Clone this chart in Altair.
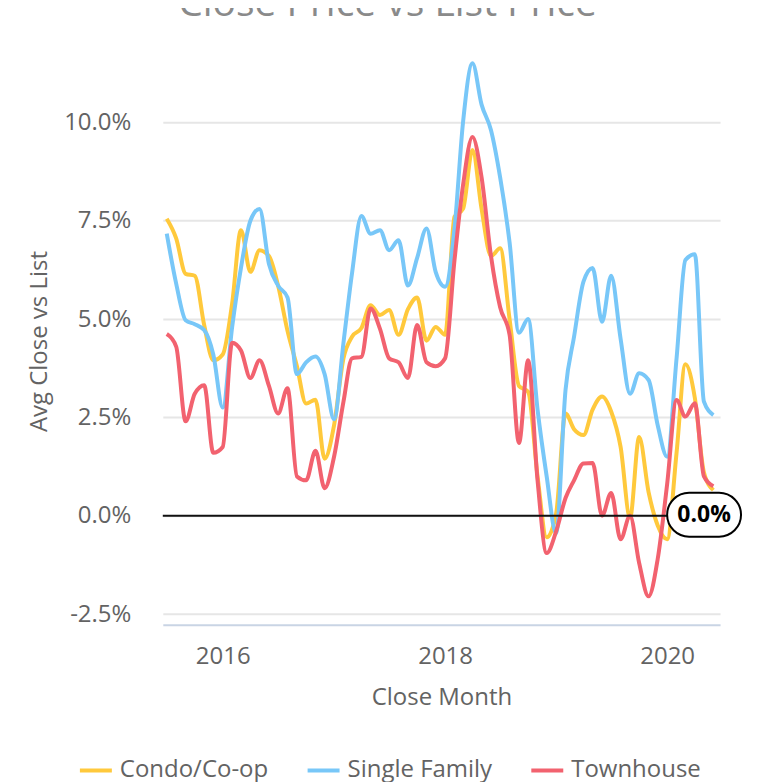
import altair as alt
import pandas as pd

# ---- data (percent) ----
months = pd.date_range("2015-07-01", "2020-06-01", freq="MS")

series_names = ["Condo/Co-op", "Single Family", "Townhouse"]
series_colors = ["#FFC93C", "#78C7F8", "#F2626F"]

condo = [7.55, 7.05, 6.15, 6.1, 4.85, 3.95, 4.1, 5.4, 7.26, 6.2,
         6.75, 6.6, 5.85, 4.7, 3.8, 2.85, 2.95, 1.45, 2.3, 4.0,
         4.55, 4.77, 5.35, 5.1, 5.23, 4.6, 5.25, 5.55, 4.45, 4.8,
         4.6, 7.6, 7.8, 9.3, 7.8, 6.6, 6.8, 5.0, 3.3, 3.15,
         1.0, -0.55, 0.05, 2.6, 2.2, 2.05, 2.7, 3.03, 2.65, 1.75,
         -0.05, 2.0, 0.6, -0.25, -0.6, 1.6, 3.85, 3.0, 1.1, 0.65]

single = [7.17, 5.9, 4.97, 4.87, 4.72, 4.1, 2.75, 4.8, 6.3, 7.5,
          7.8, 6.4, 5.85, 5.55, 3.6, 3.9, 4.05, 3.6, 2.45, 4.4,
          6.16, 7.62, 7.17, 7.26, 6.75, 7.0, 5.85, 6.55, 7.3, 6.2,
          5.82, 7.3, 10.0, 11.5, 10.45, 9.8, 8.6, 6.95, 4.65, 5.0,
          2.7, 1.0, -0.45, 3.2, 4.55, 5.95, 6.3, 4.93, 6.1, 4.5,
          3.1, 3.62, 3.45, 2.3, 1.5, 4.0, 6.5, 6.65, 2.9, 2.56]

town = [4.62, 4.3, 2.4, 3.1, 3.32, 1.6, 1.75, 4.4, 4.2, 3.5,
        3.95, 3.3, 2.6, 3.24, 1.0, 0.9, 1.65, 0.7, 1.5, 2.9,
        4.0, 4.04, 5.27, 4.75, 4.0, 3.9, 3.5, 4.85, 3.9, 3.8,
        4.0, 6.5, 8.4, 9.63, 8.6, 6.6, 5.3, 4.6, 1.85, 3.95,
        0.9, -0.95, -0.4, 0.45, 0.9, 1.33, 1.34, 0.0, 0.58, -0.6,
        0.0, -1.2, -2.05, -1.1, 0.8, 2.94, 2.52, 2.86, 1.0, 0.75]

y_ticks = [-0.025, 0.0, 0.025, 0.05, 0.075, 0.10]
x_tick_years = [2016, 2018, 2020]
chart_title = "Close Price vs List Price"

rows = []
for name, vals in zip(series_names, [condo, single, town]):
    for d, v in zip(months, vals):
        rows.append({"month": d.strftime("%Y-%m-%d"), "type": name, "value": v / 100.0})
df = pd.DataFrame(rows)

FONT = "Open Sans"
LABEL_COLOR = "#636363"
FS = 24

x_scale = alt.Scale(domain=[alt.DateTime(year=2015, month=6, date=18),
                            alt.DateTime(year=2020, month=6, date=23)])
y_scale = alt.Scale(domain=[-0.0277, 0.1165], nice=False, zero=False)

x_enc = alt.X(
    "month:T",
    scale=x_scale,
    axis=alt.Axis(
        title="Close Month",
        values=[alt.DateTime(year=yr, month=1, date=1) for yr in x_tick_years],
        format="%Y",
        grid=False,
        ticks=False,
        tickSize=0,
        domain=True,
        domainColor="#c9d4e4",
        domainWidth=2,
        labelFontSize=FS,
        labelColor=LABEL_COLOR,
        labelFont=FONT,
        labelPadding=32,
        labelBaseline="middle",
        titleFontSize=FS,
        titleFont=FONT,
        titleFontWeight="normal",
        titleColor=LABEL_COLOR,
        titleX=279,
        titleY=73,
        titleBaseline="middle",
        titleAlign="center",
    ),
)

y_enc = alt.Y(
    "value:Q",
    scale=y_scale,
    axis=alt.Axis(
        title="Avg Close vs List",
        values=y_ticks,
        labelExpr="replace(format(datum.value, '.1%'), '\u2212', '-')",
        grid=True,
        gridColor="#e6e6e6",
        gridWidth=2,
        domain=False,
        ticks=False,
        tickSize=0,
        labelFontSize=FS,
        labelColor=LABEL_COLOR,
        labelFont=FONT,
        labelPadding=32,
        titleFontSize=FS,
        titleFont=FONT,
        titleFontWeight="normal",
        titleColor=LABEL_COLOR,
        titleAngle=270,
        titleX=-123,
        titleY=284,
        titleAlign="center",
        titleBaseline="middle",
    ),
)

lines = alt.Chart(df).mark_line(strokeWidth=4, interpolate="monotone").encode(
    x=x_enc,
    y=y_enc,
    color=alt.Color(
        "type:N",
        scale=alt.Scale(domain=series_names, range=series_colors),
        legend=alt.Legend(
            orient="none",
            legendX=-85,
            legendY=696,
            direction="horizontal",
            title=None,
            symbolType="stroke",
            symbolSize=1024,
            symbolStrokeWidth=4,
            labelFontSize=FS,
            labelFont=FONT,
            labelColor=LABEL_COLOR,
            labelOffset=6,
            columnPadding=31,
        ),
    ),
)

zero_df = pd.DataFrame({"y": [0.0]})
zero_rule = alt.Chart(zero_df).mark_rule(color="#111111", strokeWidth=2).encode(
    y=alt.Y("y:Q", scale=y_scale)
)

ann_df = pd.DataFrame({"x": ["2020-01-01"], "x2": ["2020-01-01"], "y": [0.0], "y2": [0.0], "label": ["0.0%"]})
ann_box = alt.Chart(ann_df).mark_rect(
    fill="white", stroke="black", strokeWidth=2, cornerRadius=22,
    x2Offset=74, yOffset=-23, y2Offset=21,
).encode(
    x=alt.X("x:T", scale=x_scale),
    x2="x2:T",
    y=alt.Y("y:Q", scale=y_scale),
    y2="y2:Q",
)
ann_text = alt.Chart(ann_df).mark_text(
    font=FONT, fontWeight="bold", fontSize=23, color="black",
    align="center", baseline="middle", dx=37, dy=-1,
).encode(
    x=alt.X("x:T", scale=x_scale),
    y=alt.Y("y:Q", scale=y_scale),
    text="label:N",
)

# chart title, sitting at the very top edge (cut off as in the reference)
title_df = pd.DataFrame({"t": [chart_title]})
title_text = alt.Chart(title_df).mark_text(
    font=FONT, fontSize=39, color="#8a8a8a", align="center", baseline="alphabetic",
).encode(
    x=alt.value(225),
    y=alt.value(-42),
    text="t:N",
)

chart = alt.layer(lines, zero_rule, ann_box, ann_text, title_text).properties(
    width=558,
    height=568,
    autosize=alt.AutoSizeParams(type="none"),
    padding={"left": 155, "top": 49, "right": 45, "bottom": 160},
).configure(font=FONT, view=alt.ViewConfig(stroke=None))

chart.save("out.html", embed_options={"renderer": "svg", "actions": False})
